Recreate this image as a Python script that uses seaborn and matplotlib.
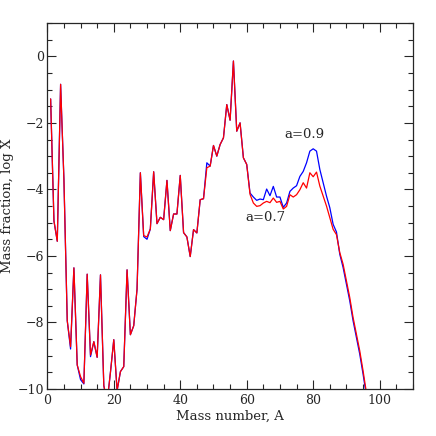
import numpy as np
import pandas as pd
import seaborn as sns
import matplotlib
matplotlib.use("Agg")
import matplotlib.pyplot as plt
from matplotlib.ticker import MultipleLocator

# mass number A = 1..96
mass_number = list(range(1, 97))

# log mass fraction, a=0.7 (red)
logx_a07 = [
    -1.28, -4.95, -5.56, -0.84, -3.70, -7.95, -8.73, -6.36, -9.28, -9.63,
    -9.83, -6.55, -8.98, -8.58, -9.05, -6.57, -9.90, -10.40, -9.50, -8.52,
    -10.05, -9.48, -9.33, -6.42, -8.37, -8.10, -7.00, -3.50, -5.39, -5.43,
    -5.19, -3.47, -5.03, -4.84, -4.91, -3.73, -5.24, -4.74, -4.74, -3.58,
    -5.30, -5.43, -6.02, -5.21, -5.31, -4.31, -4.28, -3.35, -3.30, -2.68,
    -3.00, -2.65, -2.45, -1.45, -1.92, -0.14, -2.25, -2.00, -3.05, -3.25,
    -4.15, -4.41, -4.51, -4.49, -4.41, -4.36, -4.40, -4.26, -4.39, -4.36,
    -4.59, -4.51, -4.16, -4.23, -4.16, -4.01, -3.80, -3.96, -3.50, -3.62,
    -3.48, -3.90, -4.20, -4.50, -4.85, -5.20, -5.36, -5.90, -6.25, -6.75,
    -7.25, -7.85, -8.35, -8.85, -9.45, -10.10,
]

# log mass fraction, a=0.9 (blue)
logx_a09 = [
    -1.28, -4.95, -5.56, -0.84, -3.70, -7.95, -8.80, -6.36, -9.28, -9.72,
    -9.85, -6.55, -9.03, -8.58, -9.05, -6.57, -9.90, -10.40, -9.50, -8.52,
    -10.05, -9.48, -9.33, -6.42, -8.37, -8.10, -7.00, -3.50, -5.42, -5.50,
    -5.19, -3.47, -5.03, -4.84, -4.91, -3.73, -5.24, -4.74, -4.74, -3.58,
    -5.30, -5.43, -6.02, -5.21, -5.31, -4.31, -4.28, -3.20, -3.30, -2.68,
    -3.00, -2.65, -2.45, -1.45, -1.92, -0.14, -2.25, -2.00, -3.05, -3.25,
    -4.11, -4.23, -4.33, -4.29, -4.31, -3.99, -4.19, -3.91, -4.23, -4.23,
    -4.54, -4.41, -4.06, -3.96, -3.89, -3.61, -3.46, -3.20, -2.85, -2.78,
    -2.85, -3.40, -3.80, -4.20, -4.55, -5.05, -5.28, -5.95, -6.35, -6.85,
    -7.35, -7.95, -8.45, -8.95, -9.55, -10.20,
]

df = pd.concat([
    pd.DataFrame({"A": mass_number, "logX": logx_a09, "model": "a=0.9"}),
    pd.DataFrame({"A": mass_number, "logX": logx_a07, "model": "a=0.7"}),
])

sns.set_style("ticks")
plt.rcParams['font.family'] = ['DejaVu Serif']

fig = plt.figure(figsize=(4.36, 4.36), dpi=100)
ax = fig.add_axes([0.1085, 0.108, 0.8385, 0.839])

sns.lineplot(data=df, x="A", y="logX", hue="model",
             palette={"a=0.9": "#0000ff", "a=0.7": "#ff0000"},
             linewidth=0.9, legend=False, ax=ax, sort=False)

ax.set_xlim(0, 110)
ax.set_ylim(-10, 1)
ax.xaxis.set_major_locator(MultipleLocator(20))
ax.xaxis.set_minor_locator(MultipleLocator(5))
ax.yaxis.set_major_locator(MultipleLocator(2))
ax.yaxis.set_minor_locator(MultipleLocator(0.5))
ax.tick_params(which="both", direction="in", top=True, right=True, labelsize=9)
ax.tick_params(axis="y", pad=2.5)
ax.tick_params(which="major", length=6.5, width=0.8)
ax.tick_params(which="minor", length=3.3, width=0.8)
ax.set_yticks(range(-10, 1, 2))
ax.set_yticklabels([str(v).replace("-", "\u2212") for v in range(-10, 1, 2)])
for s in ax.spines.values():
    s.set_linewidth(0.9)

ax.set_xlabel("Mass number, A", fontsize=9.5, labelpad=2)
ax.set_ylabel("Mass fraction, log X", fontsize=9.5)
ax.yaxis.set_label_coords(-0.09, 0.5)

ax.text(77.5, -2.35, "a=0.9", fontsize=9.5, ha="center", va="center")
ax.text(65.5, -4.85, "a=0.7", fontsize=9.5, ha="center", va="center")

fig.savefig("out.png", dpi=100)
